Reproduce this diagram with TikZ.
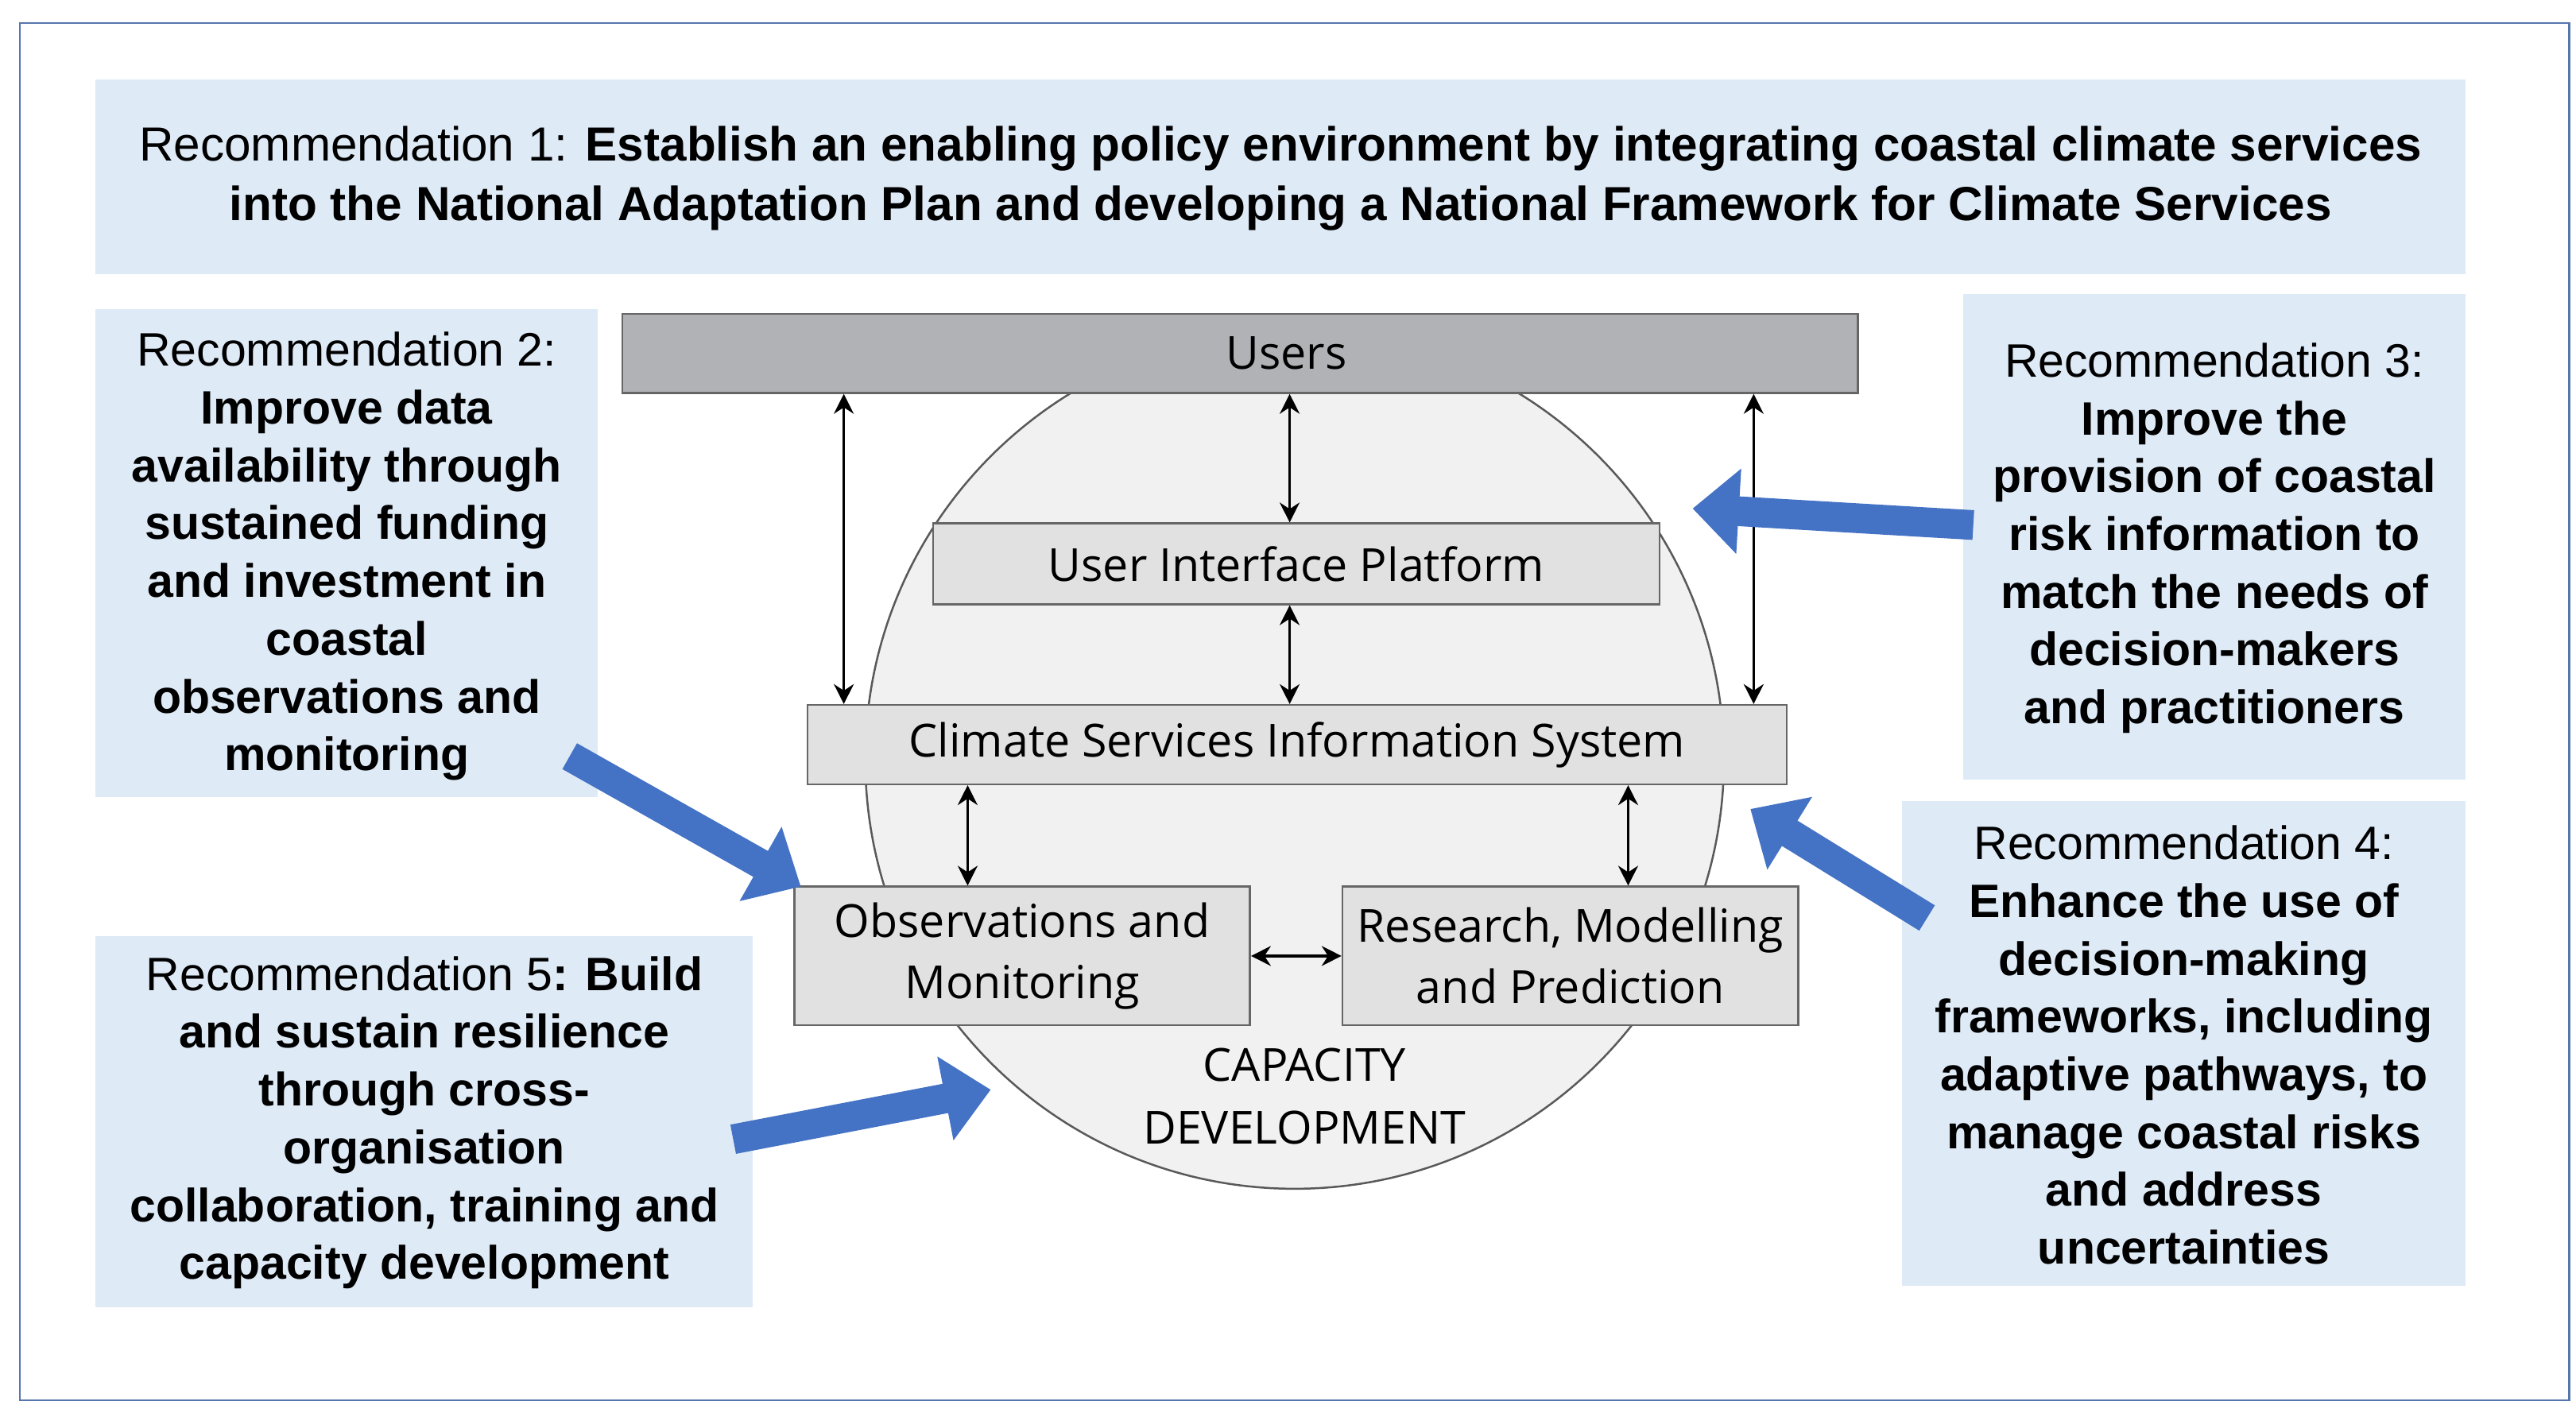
\documentclass[tikz,border=0pt]{standalone}
\usepackage{fontspec}
\setmainfont{Liberation Sans}
\newfontfamily\diag{Open Sans}
\usetikzlibrary{arrows.meta}
\definecolor{recbg}{HTML}{DEEAF6}
\definecolor{bluearr}{HTML}{4472C4}
\definecolor{usersbg}{HTML}{B1B2B6}
\definecolor{boxbg}{HTML}{E1E1E1}
\definecolor{circbg}{HTML}{F1F1F2}
\begin{document}
\begin{tikzpicture}[x=0.5pt,y=-0.5pt,
  rec/.style={fill=recbg,draw=none},
  rtxt/.style={align=center,font=\fontsize{14.2}{17.5}\selectfont},
  dbox/.style={draw=gray!80!black,line width=0.6pt,fill=boxbg,font=\diag\fontsize{13.8}{18.5}\selectfont,inner sep=0pt,align=center},
  dbl/.style={{Stealth[length=6pt,width=6pt]}-{Stealth[length=6pt,width=6pt]},line width=0.8pt},
  fat/.style={bluearr,line width=9pt,-{Triangle[length=14pt,width=25pt]}}]
\useasboundingbox (0,0) rectangle (1560,853);
\draw[draw=bluearr!70!gray,line width=0.6pt] (12,14) rectangle (1556,848);
% recommendation boxes
\fill[rec] (58,48) rectangle (1493,166);
\node[rtxt,font=\fontsize{14.5}{18}\selectfont] (r1) at (775.5,108) {Recommendation 1: \textbf{Establish an enabling policy environment by integrating coastal climate services}\\\textbf{into the National Adaptation Plan and developing a National Framework for Climate Services}};
\fill[rec] (58,187) rectangle (362,483);
\node[rtxt] (r2) at (210,337) {Recommendation 2:\\\textbf{Improve data}\\\textbf{availability through}\\\textbf{sustained funding}\\\textbf{and investment in}\\\textbf{coastal}\\\textbf{observations and}\\\textbf{monitoring}};
\fill[rec] (1189,178) rectangle (1493,472);
\node[rtxt] (r3) at (1341,326) {Recommendation 3:\\\textbf{Improve the}\\\textbf{provision of coastal}\\\textbf{risk information to}\\\textbf{match the needs of}\\\textbf{decision-makers}\\\textbf{and practitioners}};
\fill[rec] (1152,485) rectangle (1493,779);
\node[rtxt] (r4) at (1322.5,633) {Recommendation 4:\\\textbf{Enhance the use of}\\\textbf{decision-making}\\\textbf{frameworks, including}\\\textbf{adaptive pathways, to}\\\textbf{manage coastal risks}\\\textbf{and address}\\\textbf{uncertainties}};
\fill[rec] (58,567) rectangle (456,792);
\node[rtxt] (r5) at (257,680) {Recommendation 5\textbf{: Build}\\\textbf{and sustain resilience}\\\textbf{through cross-}\\\textbf{organisation}\\\textbf{collaboration, training and}\\\textbf{capacity development}};
% circle
\draw[fill=circbg,draw=gray!70!black,line width=0.6pt] (784,460) circle [radius=130pt];
\node[font=\diag\fontsize{13.8}{19}\selectfont,align=center] (cap) at (790,664) {CAPACITY\\DEVELOPMENT};
% diagram boxes
\node[dbox,fill=usersbg,minimum width=374pt,minimum height=24pt,text width=374pt,align=center] (users) at (751,214) {\hspace*{28pt}Users};
\node[dbox,minimum width=220pt,minimum height=24.5pt] (uip) at (785,341.5) {User Interface Platform};
\node[dbox,minimum width=296.5pt,minimum height=24pt] (csis) at (785.5,451) {Climate Services Information System};
\node[dbox,minimum width=138pt,minimum height=42pt] (obs) at (619,579) {Observations and\\Monitoring};
\node[dbox,minimum width=138pt,minimum height=42pt] (res) at (951,579) {Research, Modelling\\and Prediction};
% double arrows
\coordinate (cl) at (511,0);
\coordinate (cr) at (1062,0);
\coordinate (cm) at (781,0);
\coordinate (co) at (586,0);
\coordinate (crr) at (986,0);
\draw[dbl] (users.south -| cl) -- (csis.north -| cl);
\draw[dbl] (users.south -| cr) -- (csis.north -| cr);
\draw[dbl] (users.south -| cm) -- (uip.north -| cm);
\draw[dbl] (uip.south -| cm) -- (csis.north -| cm);
\draw[dbl] (csis.south -| co) -- (obs.north -| co);
\draw[dbl] (csis.south -| crr) -- (res.north -| crr);
\draw[dbl] (obs.east) -- (res.west);
% blue arrows
\coordinate (a3s) at (1195,318); \coordinate (a3e) at (1025,308);
\coordinate (a2s) at (345,458); \coordinate (a2e) at (485,537);
\coordinate (a4s) at (1167,556); \coordinate (a4e) at (1060,490);
\coordinate (a5s) at (444,690); \coordinate (a5e) at (600,660);
\draw[fat] (a3s) -- (a3e);
\draw[fat] (a2s) -- (a2e);
\draw[fat] (a4s) -- (a4e);
\draw[fat] (a5s) -- (a5e);
\end{tikzpicture}
\end{document}
